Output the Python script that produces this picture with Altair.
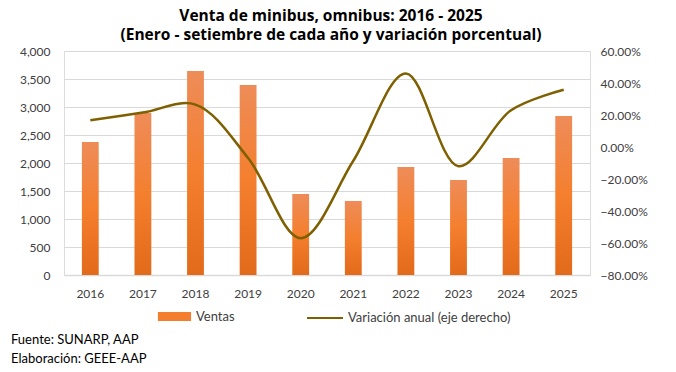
import altair as alt
import pandas as pd

years = ["2016", "2017", "2018", "2019", "2020", "2021", "2022", "2023", "2024", "2025"]
ventas = [2375, 2893, 3643, 3393, 1446, 1321, 1929, 1696, 2089, 2839]
variacion = [16.7, 21.5, 26.5, -6.9, -57.0, -8.6, 46.0, -12.0, 23.0, 35.8]  # %
series_names = ["Ventas", "Variación anual (eje derecho)"]
title_lines = ["Venta de minibus, omnibus: 2016 - 2025",
               "(Enero - setiembre de cada año y variación porcentual)"]
notes = ["Fuente: SUNARP, AAP", "Elaboración: GEEE-AAP"]
left_ticks = list(range(0, 4001, 500))
right_ticks = [v / 100 for v in range(-80, 61, 20)]

df = pd.DataFrame({
    "year": years,
    "ventas": ventas,
    "var": [v / 100 for v in variacion],
    "s1": series_names[0],
    "s2": series_names[1],
})

W, H = 526, 224
FONT = "Lato"
ORANGE = "#F37E2E"
OLIVE = "#7F6000"
TXT = "#404040"

xenc = alt.X(
    "year:N",
    sort=years,
    scale=alt.Scale(paddingInner=0.68, paddingOuter=0.34),
    axis=alt.Axis(title=None, labelAngle=0, ticks=False, domain=True,
                  domainColor="#D9D9D9", domainWidth=1.5, labelPadding=13,
                  labelFontSize=12, labelColor=TXT, labelFont=FONT, grid=False),
)

grad = alt.Gradient(
    gradient="linear",
    stops=[alt.GradientStop(color="#EE8C59", offset=0),
           alt.GradientStop(color="#F47F2E", offset=0.5),
           alt.GradientStop(color="#E26A1B", offset=1)],
    x1=0, x2=0, y1=0, y2=1,
)

bars = alt.Chart(df).mark_bar(color=grad).encode(
    x=xenc,
    y=alt.Y("ventas:Q",
            scale=alt.Scale(domain=[0, 4000], nice=False),
            axis=alt.Axis(orient="left", title=None, values=left_ticks, format=",d",
                          grid=True, gridColor="#D9D9D9", ticks=False, domain=False,
                          labelPadding=14, labelFontSize=12, labelColor=TXT,
                          labelFont=FONT)),
)

legend_pts = alt.Chart(df).mark_point(opacity=0, filled=True).encode(
    x=xenc,
    y=alt.value(0),
    fill=alt.Fill("s1:N", scale=alt.Scale(range=[ORANGE]),
                  legend=alt.Legend(title=None, orient="none", legendX=93, legendY=248,
                                    symbolType="M-1,-0.27H1V0.27H-1Z", symbolSize=1100,
                                    symbolOpacity=1, labelFontSize=13, labelFont=FONT,
                                    labelColor=TXT, labelOffset=4, labelLimit=300)),
)

line = alt.Chart(df).mark_line(interpolate="catmull-rom", strokeWidth=2.5).encode(
    x=xenc,
    y=alt.Y("var:Q",
            scale=alt.Scale(domain=[-0.8, 0.6], nice=False),
            axis=alt.Axis(orient="right", title=None, values=right_ticks, format=".2%",
                          grid=False, ticks=False, domain=False, labelPadding=10,
                          labelFontSize=12, labelColor=TXT, labelFont=FONT)),
    stroke=alt.Stroke("s2:N", scale=alt.Scale(range=[OLIVE]),
                      legend=alt.Legend(title=None, orient="none", legendX=242, legendY=248,
                                        symbolType="stroke", symbolSize=1296,
                                        symbolStrokeWidth=2, labelFontSize=13,
                                        labelFont=FONT, labelColor=TXT, labelOffset=4,
                                        labelLimit=300)),
)

notes_df = pd.DataFrame({"t": ["\n".join(notes)]})
note_text = alt.Chart(notes_df).mark_text(
    align="left", baseline="middle", fontSize=13, font=FONT, color="black",
    lineBreak="\n", lineHeight=19,
).encode(x=alt.value(-53), y=alt.value(289), text="t:N")

chart = alt.layer(bars, legend_pts, line, note_text).resolve_scale(
    y="independent", fill="independent", stroke="independent"
).properties(
    width=W, height=H,
    autosize=alt.AutoSizeParams(type="none"),
    padding={"left": 56, "top": 43, "right": 78, "bottom": 95},
    title=alt.TitleParams(title_lines, font="Open Sans", fontSize=15.5, fontWeight="bold",
                          color="black", anchor="middle", lineHeight=19, offset=2, dx=4),
).configure_view(stroke=None).configure(background="white")

chart.save("out.html", embed_options={"renderer": "svg", "actions": False})
